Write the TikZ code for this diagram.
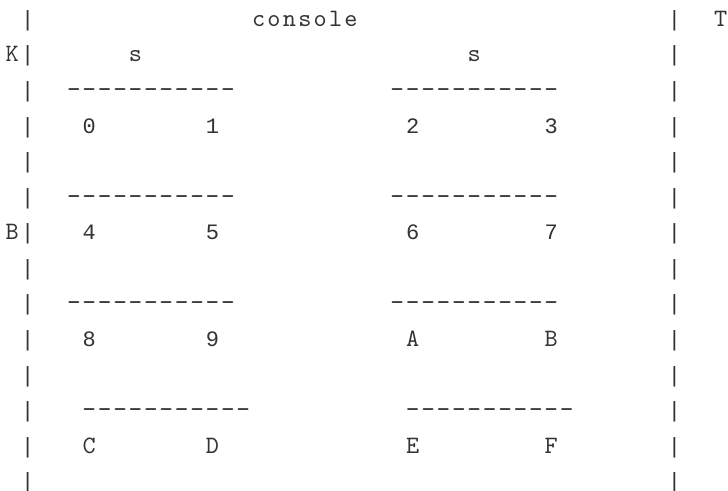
\documentclass[tikz,border=0pt]{standalone}
\usepackage{fontspec}
\newfontfamily\monoface{lmmono10-regular.otf}
\newfontfamily\monorun[LetterSpace=9.1]{lmmono10-regular.otf}
\newfontfamily\digface{Liberation Mono}
\definecolor{ink}{rgb}{0.2,0.2,0.2}
\newcommand\dcell{\makebox[15.4pt]{-}}
\newcommand\dashrun{\dcell\dcell\dcell\dcell\dcell\dcell\dcell\dcell\dcell\dcell\dcell}
\tikzset{
  glyph/.style={anchor=base, inner sep=0pt, outer sep=0pt, text=ink, font=\monoface\fontsize{25}{25}\selectfont},
  digit/.style={glyph, font=\digface\fontsize{22}{22}\selectfont},
  runtext/.style={anchor=base west, inner sep=0pt, outer sep=0pt, text=ink, font=\monorun\fontsize{25}{25}\selectfont},
  dashtext/.style={anchor=base west, inner sep=0pt, outer sep=0pt, text=ink, font=\monoface\fontsize{26}{26}\selectfont},
  barglyph/.style={anchor=base, inner sep=0pt, outer sep=0pt, text=ink, font=\digface\fontsize{22}{22}\selectfont},
}
\begin{document}
\begin{tikzpicture}
\path[use as bounding box] (0pt,0pt) rectangle (728pt,-490pt);
\begin{scope}[shift={(12.3pt,-26.4pt)}, x=15.4pt, y=-35.57pt]
  \foreach \r in {0,...,13} {
    \node[barglyph] (lb\r) at (1,\r) {|};
    \node[barglyph] (rb\r) at (43,\r) {|};
  }
  \node[glyph] (T) at (46,0) {T};
  \node[runtext] (console) at (15.57,0) {console};
  \node[glyph] (K) at (0,1) {K};
  \node[glyph] (s1) at (8,1) {s};
  \node[glyph] (s2) at (30,1) {s};
  \node[glyph] (B) at (0,6) {B};
  % dash rows
  \foreach \r in {2,5,8} {
    \node[dashtext] (dl\r) at (3.5,\r) {\dashrun};
    \node[dashtext] (dr\r) at (24.5,\r) {\dashrun};
  }
  \node[dashtext] (dl11) at (4.5,11) {\dashrun};
  \node[dashtext] (dr11) at (25.5,11) {\dashrun};
  % cells
  \node[digit] (c0) at (5,3) {0};
  \node[digit] (c1) at (13,3) {1};
  \node[digit] (c2) at (26,3) {2};
  \node[digit] (c3) at (35,3) {3};
  \node[digit] (c4) at (5,6) {4};
  \node[digit] (c5) at (13,6) {5};
  \node[digit] (c6) at (26,6) {6};
  \node[digit] (c7) at (35,6) {7};
  \node[digit] (c8) at (5,9) {8};
  \node[digit] (c9) at (13,9) {9};
  \node[glyph] (cA) at (26,9) {A};
  \node[glyph] (cB) at (35,9) {B};
  \node[glyph] (cC) at (5,12) {C};
  \node[glyph] (cD) at (13,12) {D};
  \node[glyph] (cE) at (26,12) {E};
  \node[glyph] (cF) at (35,12) {F};
\end{scope}
\end{tikzpicture}
\end{document}
